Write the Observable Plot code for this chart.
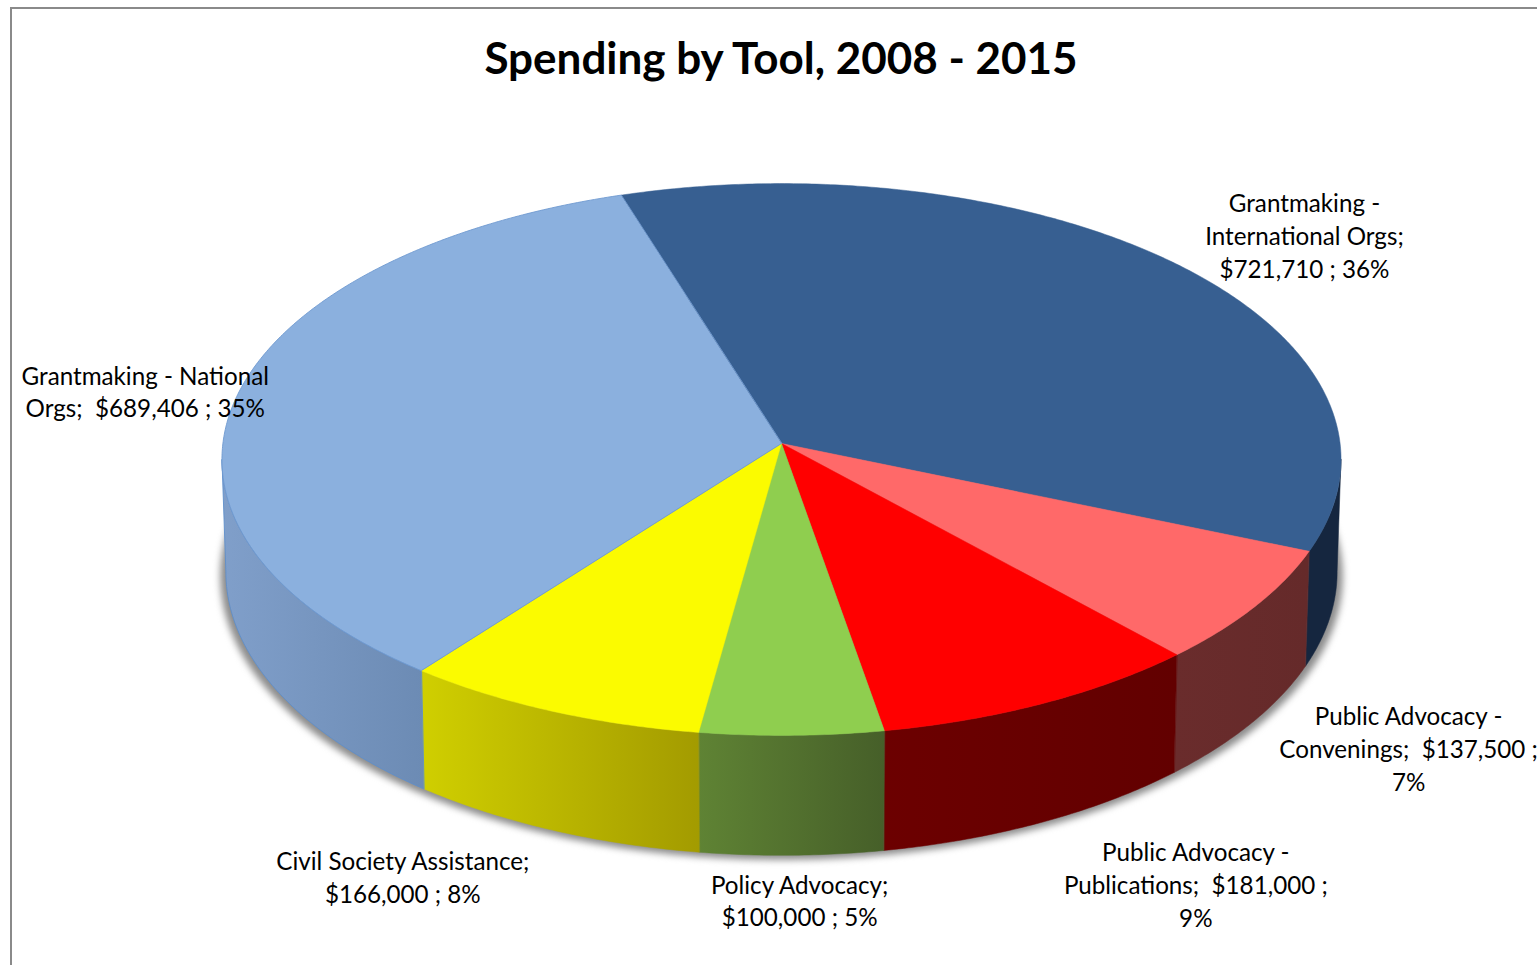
<!DOCTYPE html>
<html>
<head>
<meta charset="utf-8">
<script src="https://cdn.jsdelivr.net/npm/d3@7"></script>
<script src="https://cdn.jsdelivr.net/npm/@observablehq/plot@0.6"></script>
<style>
  html, body { margin: 0; padding: 0; background: #fff; overflow: hidden; width: 1537px; height: 965px; }
  #frame { position: absolute; left: 10px; top: 7px; right: -10px; bottom: -10px; border: 2px solid #8a8a8a; box-sizing: border-box; }
  #title { position: absolute; left: 0; top: 27px; width: 1562px; height: 60px; text-align: center;
           font: bold 44px/60px Lato, sans-serif; color: #000; }
  #chart { position: absolute; left: 0; top: 108px; }
  svg { display: block; overflow: hidden; }
</style>
</head>
<body>
<div id="frame"></div>
<div id="title">Spending by Tool, 2008 - 2015</div>
<div id="chart"></div>
<script>
const categories = ["Grantmaking - International Orgs", "Public Advocacy - Convenings", "Public Advocacy - Publications", "Policy Advocacy", "Civil Society Assistance", "Grantmaking - National Orgs"];
const amounts = [721710, 137500, 181000, 100000, 166000, 689406];
const labels = [
  "Grantmaking -\nInternational Orgs;\n$721,710 ; 36%",
  "Public Advocacy -\nConvenings;  $137,500 ;\n7%",
  "Public Advocacy -\nPublications;  $181,000 ;\n9%",
  "Policy Advocacy;\n$100,000 ; 5%",
  "Civil Society Assistance;\n$166,000 ; 8%",
  "Grantmaking - National\nOrgs;  $689,406 ; 35%"
];
const topColors = ["#375f91", "#ff6969", "#ff0000", "#8fce4f", "#fbfb00", "#8bb0de"];
const wallFrom = ["#15263f", "#6a2c2c", "#6c0000", "#5f8334", "#d0cf00", "#809fca"];
const wallTo = ["#15263f", "#652a2a", "#620000", "#465f29", "#a39b00", "#6c8bb4"];
const labelDx = [127, 153.5, 153, 8, -148, -92];
const labelDy = [-30, 141, 180, 164, 165, -5];

// pie geometry: perspective view of a tilted disc, angles come from the amounts
const tilt = 0.058, startDeg = -17.65, bottomSx = 0.993, bottomSy = 1.027, drop = 0.4073;
const rad = d => d * Math.PI / 180;
const rim = deg => {
  const u = Math.sin(rad(deg)), v = -Math.cos(rad(deg)), w = 1 - tilt * v;
  return {x: u / w, y: v / w};
};
const low = p => ({x: p.x * bottomSx, y: p.y * bottomSy + drop});
const arc = (a, b) => d3.range(0, 1.0001, 1 / Math.max(2, Math.ceil(Math.abs(b - a) * 2))).map(t => rim(a + (b - a) * t));

const total = d3.sum(amounts);
let acc = startDeg;
const slices = amounts.map((v, i) => {
  const a0 = acc; acc += v / total * 360;
  return {i, name: categories[i], a0, a1: acc, mid: (a0 + acc) / 2};
});

const visibleFrom = 93.3, visibleTo = 266.7;
const wallMarks = slices.map(s => {
  const a = Math.max(s.a0, visibleFrom), b = Math.min(s.a1, visibleTo);
  if (b <= a) return null;
  const upper = arc(a, b);
  const poly = upper.concat(upper.slice().reverse().map(low));
  const isNat = s.i === 5;
  return Plot.line(poly, {x: "x", y: "y", fill: `url(#wall${s.i})`, stroke: isNat ? "#5f8fcb" : `url(#wall${s.i})`, strokeWidth: isNat ? 0.9 : 0.5, curve: "linear-closed"});
});

const topMarks = slices.map(s => {
  const poly = [{x: 0, y: 0}].concat(arc(s.a0, s.a1));
  const isNat = s.i === 5;
  return Plot.line(poly, {x: "x", y: "y", fill: topColors[s.i], stroke: isNat ? "#6f9ad0" : topColors[s.i], strokeWidth: isNat ? 0.9 : 0.5, curve: "linear-closed"});
});

const labelMarks = slices.map(s => Plot.text([rim(s.mid)], {
  x: "x", y: "y", text: () => labels[s.i], dx: labelDx[s.i], dy: labelDy[s.i],
  fontSize: 24.2, lineHeight: 1.35, fontFamily: "Lato, sans-serif", fill: "#000", textAnchor: "middle", lineAnchor: "middle"
}));

const gradients = () => {
  const defs = d3.create("svg:defs");
  slices.forEach(s => {
    const g = defs.append("linearGradient").attr("id", `wall${s.i}`).attr("x1", 0).attr("x2", 1).attr("y1", 0).attr("y2", 0);
    g.append("stop").attr("offset", 0).attr("stop-color", wallFrom[s.i]);
    g.append("stop").attr("offset", 1).attr("stop-color", wallTo[s.i]);
  });
  return defs.node();
};

const shadowRing = arc(0, 360).map(low).map(p => ({x: p.x * 1.01, y: p.y + 0.016}));

const chart = Plot.plot({
  width: 1537, height: 857, margin: 0,
  style: {background: "transparent"},
  x: {domain: [-1, 1], range: [781 - 558.6, 781 + 558.6], axis: null},
  y: {domain: [-1, 1], range: [335 - 275, 335 + 275], axis: null},
  marks: [
    gradients,
    Plot.line(shadowRing, {x: "x", y: "y", fill: "#8c8c8c", stroke: "none", curve: "linear-closed", imageFilter: "blur(3.5px)"}),
    ...wallMarks.filter(Boolean),
    ...topMarks,
    ...labelMarks
  ]
});
document.getElementById("chart").appendChild(chart);
</script>
</body>
</html>
